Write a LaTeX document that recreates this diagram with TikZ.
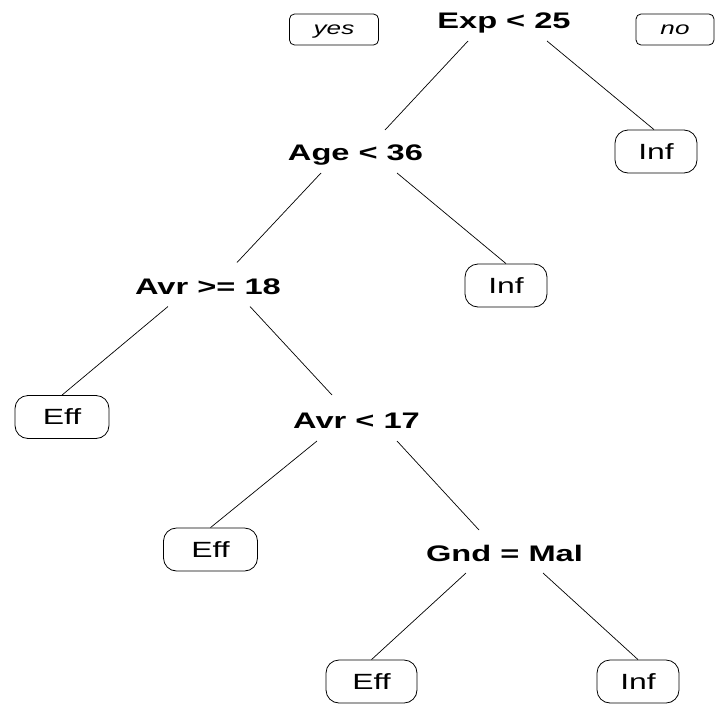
\documentclass[tikz,border=0pt]{standalone}
\usepackage{fontspec}
\setmainfont{Liberation Sans}[FakeStretch=1.45]
\begin{document}
\begin{tikzpicture}[x=1pt,y=-1pt,
  split/.style={font=\fontsize{22.5}{24}\selectfont\bfseries, text height=16pt, text depth=0pt, inner sep=0pt},
  leaf/.style={draw, line width=0.8pt, rounded corners=13pt, font=\fontsize{22}{24}\selectfont, text height=15.5pt, text depth=0pt, inner sep=0pt, minimum height=43pt, minimum width=82pt},
  effw/.style={minimum width=94pt},
  lab/.style={draw, line width=0.8pt, rounded corners=5pt, font=\fontsize{18}{20}\selectfont\itshape, text height=10pt, text depth=0pt, inner sep=0pt, minimum height=31pt},
  edge/.style={line width=0.7pt}]
\useasboundingbox (0,0) rectangle (717,704);
% labels
\node[lab, minimum width=89pt] (yes) at (334,29.5) {yes};
\node[lab, minimum width=78pt] (no) at (675,29.5) {no};
% split nodes
\node[split] (exp) at (504,20) {Exp < 25};
\node[split] (age) at (355.5,152) {Age < 36};
\node[split] (avra) at (208,286.5) {Avr >= 18};
\node[split] (avrb) at (356.5,420) {Avr < 17};
\node[split] (gnd) at (504.5,553) {Gnd = Mal};
% leaves
\node[leaf] (infa) at (656,151.5) {Inf};
\node[leaf] (infb) at (506,285.5) {Inf};
\node[leaf, effw] (effa) at (62,417) {Eff};
\node[leaf, effw] (effb) at (210.5,549.5) {Eff};
\node[leaf, minimum width=91pt] (effc) at (371.5,681.5) {Eff};
\node[leaf] (infc) at (638,681.5) {Inf};
% edges
\draw[edge] ([shift={(-36,21)}]exp.center) -- ([shift={(29.5,-22)}]age.center);
\draw[edge] ([shift={(43,21)}]exp.center) -- ([xshift=-2pt]infa.north);
\draw[edge] ([shift={(-34.5,21)}]age.center) -- ([shift={(29,-24)}]avra.center);
\draw[edge] ([shift={(41.5,21)}]age.center) -- (infb.north);
\draw[edge] ([shift={(-40,20)}]avra.center) -- (effa.north);
\draw[edge] ([shift={(42,20)}]avra.center) -- ([shift={(-24.5,-25)}]avrb.center);
\draw[edge] ([shift={(-39.5,21)}]avrb.center) -- (effb.north);
\draw[edge] ([shift={(40.5,21)}]avrb.center) -- ([shift={(-25.5,-23)}]gnd.center);
\draw[edge] ([shift={(-38.5,20)}]gnd.center) -- (effc.north);
\draw[edge] ([shift={(38.5,20)}]gnd.center) -- (infc.north);
\end{tikzpicture}
\end{document}
